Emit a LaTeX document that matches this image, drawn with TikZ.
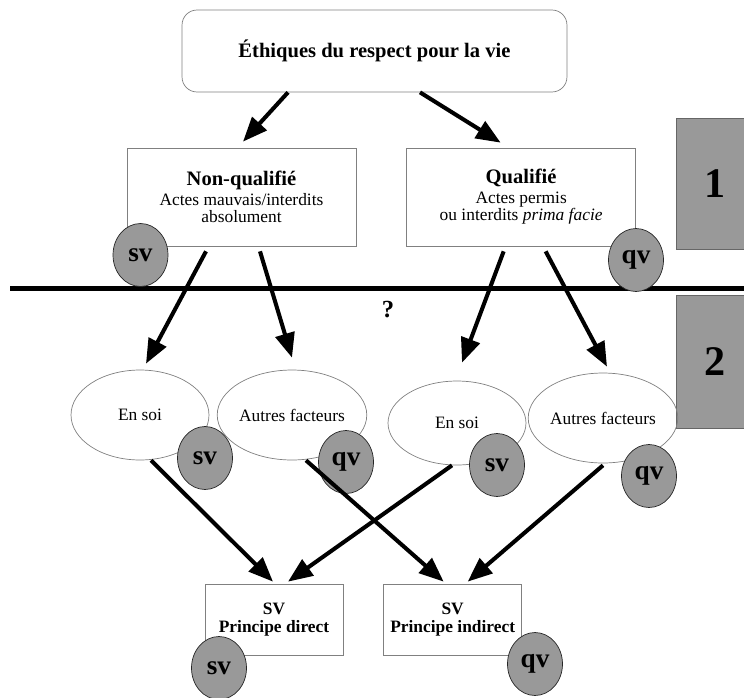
\documentclass[tikz,border=0pt]{standalone}
\usepackage{fontspec}
\setmainfont{Liberation Serif}
\usepackage{tikz}
\usetikzlibrary{shapes.geometric, arrows.meta, positioning}
\definecolor{shadegray}{RGB}{153,153,153}
\definecolor{linegray}{RGB}{128,128,128}
\tikzset{
    diagram/.style={font=\fontsize{9.9}{9.8}\selectfont},
    diagram box/.style={draw=linegray, align=center, inner sep=0pt,
        minimum width=4.58cm, minimum height=1.96cm},
    diagram oval/.style={ellipse, draw=linegray, inner sep=0pt,
        minimum width=2.76cm, minimum height=1.8cm},
    diagram badge/.style={ellipse, draw=black!85, fill=shadegray, inner sep=0pt,
        minimum width=1.1cm, minimum height=1.26cm,
        font=\fontsize{15.5}{16}\selectfont\bfseries},
    diagram stage/.style={draw=black!60, fill=shadegray, inner sep=0pt,
        minimum width=1.56cm, font=\fontsize{24}{26}\selectfont\bfseries},
    diagram arrow/.style={-{Triangle[length=14pt, width=11pt]}, line width=2.3pt},
    diagram rule/.style={line width=2.3pt},
    diagram title/.style={font=\fontsize{11.7}{12}\selectfont\bfseries},
}

\begin{document}
\begin{tikzpicture}[diagram, x=0.02cm, y=-0.02cm]
  \clip (0,0) rectangle (744,697);
  % level 1
  \node[diagram box, diagram title, rounded corners=0.3cm,
        minimum width=7.7cm, minimum height=1.64cm] (ethics) at (374.5,51) {Éthiques du respect pour la vie};
  \node[diagram box] (unqual) at (241.5,197) {{\fontsize{11.7}{12}\selectfont\bfseries Non-qualifié}\\[1.5pt] Actes mauvais/interdits\\ absolument};
  \node[diagram box, right=1cm of unqual] (qual) {{\fontsize{11.7}{12}\selectfont\bfseries Qualifié}\\[1.5pt] Actes permis\\ ou interdits \textit{prima facie}};
  \node[diagram stage, minimum height=2.62cm] (stage one) at (715,183.5) {1};
  \node[diagram stage, minimum height=2.66cm] (stage two) at (715,361.5) {2};
  \coordinate (rule west) at (10,288.5);
  \coordinate (rule east) at (744,288.5);
  \draw[diagram rule] (rule west) -- (rule east);
  \node[font=\fontsize{14}{16}\selectfont\bfseries] (query) at (388,310) {?};
  % level 2
  \node[diagram oval] (unqual self) at (140,415) {En soi};
  \node[diagram oval] (unqual other) at (292,415) {Autres facteurs};
  \node[diagram oval, minimum height=1.68cm] (qual self) at (457,423) {En soi};
  \node[diagram oval] (qual other) at (603,418) {Autres facteurs};
  % principles
  \node[diagram box, font=\fontsize{9.9}{10.2}\selectfont\bfseries,
        minimum width=2.76cm, minimum height=1.42cm] (direct) at (274,619.5) {SV\\ Principe direct};
  \node[diagram box, font=\fontsize{9.9}{10.2}\selectfont\bfseries,
        minimum width=2.76cm, minimum height=1.42cm, right=0.8cm of direct] (indirect) {SV\\ Principe indirect};
  % badges
  \node[diagram badge] (sv a) at (140.5,255) {sv};
  \node[diagram badge] (qv a) at (636,260) {qv};
  \node[diagram badge] (sv b) at (205,458) {sv};
  \node[diagram badge] (qv b) at (346,462) {qv};
  \node[diagram badge] (sv c) at (497,465) {sv};
  \node[diagram badge] (qv c) at (649,476) {qv};
  \node[diagram badge] (sv d) at (219,668) {sv};
  \node[diagram badge] (qv d) at (535,664) {qv};
  % arrows
  \draw[diagram arrow] ([xshift=-1.73cm]ethics.south) -- ([xshift=0.03cm, yshift=0.12cm]unqual.north);
  \draw[diagram arrow] ([xshift=0.91cm]ethics.south) -- ([xshift=-0.41cm, yshift=0.1cm]qual.north);
  \draw[diagram arrow] ([xshift=-0.71cm, yshift=-0.1cm]unqual.south) -- ([xshift=0.12cm, yshift=0.12cm]unqual self.north);
  \draw[diagram arrow] ([xshift=0.37cm, yshift=-0.1cm]unqual.south) -- ([yshift=0.24cm]unqual other.north);
  \draw[diagram arrow] ([xshift=-0.35cm, yshift=-0.1cm]qual.south) -- ([xshift=0.1cm, yshift=0.36cm]qual self.north);
  \draw[diagram arrow] ([xshift=0.49cm, yshift=-0.1cm]qual.south) -- ([xshift=0.08cm, yshift=0.12cm]qual other.north);
  \draw[diagram arrow] ([xshift=0.22cm]unqual self.south) -- ([xshift=-0.02cm, yshift=0.04cm]direct.north);
  \draw[diagram arrow] ([xshift=-0.1cm]qual self.south) -- ([xshift=0.28cm, yshift=0.04cm]direct.north);
  \draw[diagram arrow] ([xshift=0.28cm]unqual other.south) -- ([xshift=-0.18cm, yshift=0.04cm]indirect.north);
  \draw[diagram arrow] ([yshift=-0.04cm]qual other.south) -- ([xshift=0.3cm, yshift=0.04cm]indirect.north);
\end{tikzpicture}
\end{document}
